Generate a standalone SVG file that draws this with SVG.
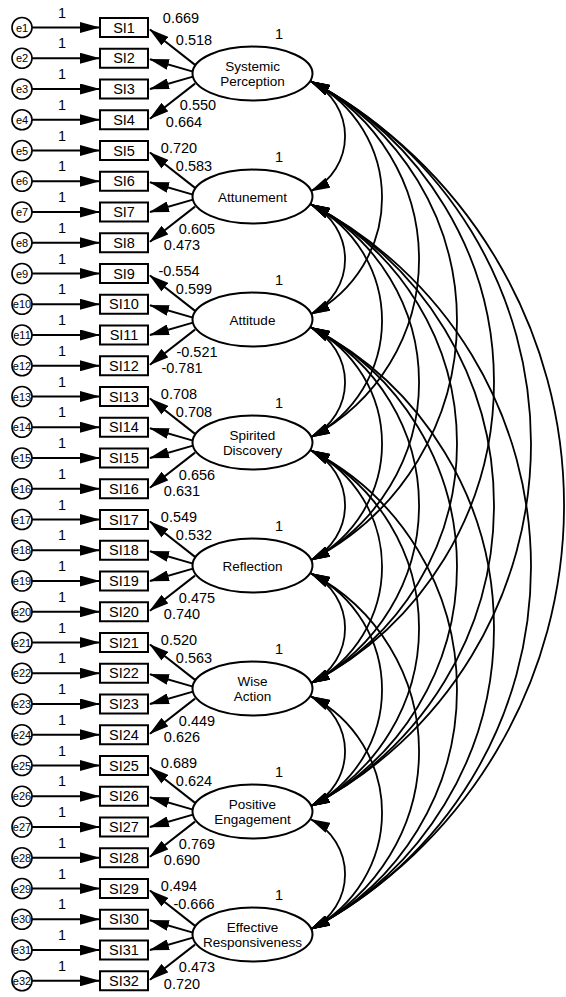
<svg xmlns="http://www.w3.org/2000/svg" xmlns:xlink="http://www.w3.org/1999/xlink" width="566" height="997" viewBox="0 0 566 997">
<style>
text{font-family:"Liberation Sans",Arial,sans-serif;fill:#000}
.ln{stroke:#000;stroke-width:2;fill:none;marker-end:url(#ah)}
.cov{stroke:#000;stroke-width:1.8;fill:none;marker-start:url(#ah);marker-end:url(#ah)}
.lbl{font-size:14.5px;text-anchor:middle}
.et{font-size:11px;text-anchor:middle}
.lt{font-size:13.5px;text-anchor:middle}
.bx rect{fill:#fff;stroke:#000;stroke-width:2}
.bx text{font-size:14.5px;text-anchor:middle}
.ev circle{fill:#fff;stroke:#000;stroke-width:1.6}
.lv ellipse{fill:#fff;stroke:#000;stroke-width:2}
</style>
<defs>
<marker id="ah" viewBox="0 0 20 11" refX="19" refY="5.5" markerWidth="20" markerHeight="11" markerUnits="userSpaceOnUse" orient="auto-start-reverse"><path d="M0,0L20,5.5L0,11z" fill="#000"/></marker>
<g id="grp">
<line class="ln" x1="32" y1="27.5" x2="99" y2="27.5"/>
<line class="ln" x1="32" y1="58.25" x2="99" y2="58.25"/>
<line class="ln" x1="32" y1="89" x2="99" y2="89"/>
<line class="ln" x1="32" y1="119.75" x2="99" y2="119.75"/>
<path class="ln" d="M196,65.6L150,29.5"/>
<path class="ln" d="M193,71.6L150,59.25"/>
<path class="ln" d="M193,76.6L150,89"/>
<path class="ln" d="M195,83.6L150,118.75"/>
</g>
</defs>
<g id="connectors">
<use xlink:href="#grp"/>
<use xlink:href="#grp" y="123"/>
<use xlink:href="#grp" y="246"/>
<use xlink:href="#grp" y="369"/>
<use xlink:href="#grp" y="492"/>
<use xlink:href="#grp" y="615"/>
<use xlink:href="#grp" y="738"/>
<use xlink:href="#grp" y="861"/>
<path class="cov" d="M311,81.4A481.5,481.5 0 0 1 311,929.1"/>
<path class="cov" d="M311,81.4A408.4,408.4 0 0 1 311,806.1"/>
<path class="cov" d="M311,204.4A408.4,408.4 0 0 1 311,929.1"/>
<path class="cov" d="M311,81.4A338.8,338.8 0 0 1 311,683.1"/>
<path class="cov" d="M311,204.4A338.8,338.8 0 0 1 311,806.1"/>
<path class="cov" d="M311,327.4A338.8,338.8 0 0 1 311,929.1"/>
<path class="cov" d="M311,81.4A269.2,269.2 0 0 1 311,560.1"/>
<path class="cov" d="M311,204.4A269.2,269.2 0 0 1 311,683.1"/>
<path class="cov" d="M311,327.4A269.2,269.2 0 0 1 311,806.1"/>
<path class="cov" d="M311,450.4A269.2,269.2 0 0 1 311,929.1"/>
<path class="cov" d="M311,81.4A200.4,200.4 0 0 1 311,437.1"/>
<path class="cov" d="M311,204.4A200.4,200.4 0 0 1 311,560.1"/>
<path class="cov" d="M311,327.4A200.4,200.4 0 0 1 311,683.1"/>
<path class="cov" d="M311,450.4A200.4,200.4 0 0 1 311,806.1"/>
<path class="cov" d="M311,573.4A200.4,200.4 0 0 1 311,929.1"/>
<path class="cov" d="M311,81.4A130.8,130.8 0 0 1 311,314.1"/>
<path class="cov" d="M311,204.4A130.8,130.8 0 0 1 311,437.1"/>
<path class="cov" d="M311,327.4A130.8,130.8 0 0 1 311,560.1"/>
<path class="cov" d="M311,450.4A130.8,130.8 0 0 1 311,683.1"/>
<path class="cov" d="M311,573.4A130.8,130.8 0 0 1 311,806.1"/>
<path class="cov" d="M311,696.4A130.8,130.8 0 0 1 311,929.1"/>
<path class="cov" d="M311,81.4A61.2,61.2 0 0 1 311,191.1"/>
<path class="cov" d="M311,204.4A61.2,61.2 0 0 1 311,314.1"/>
<path class="cov" d="M311,327.4A61.2,61.2 0 0 1 311,437.1"/>
<path class="cov" d="M311,450.4A61.2,61.2 0 0 1 311,560.1"/>
<path class="cov" d="M311,573.4A61.2,61.2 0 0 1 311,683.1"/>
<path class="cov" d="M311,696.4A61.2,61.2 0 0 1 311,806.1"/>
<path class="cov" d="M311,819.4A61.2,61.2 0 0 1 311,929.1"/>
</g>
<g id="errors" class="ev">
<g id="e1" transform="translate(22,27.5)"><circle r="10"/><text class="et" y="4">e1</text></g>
<g id="e2" transform="translate(22,58.25)"><circle r="10"/><text class="et" y="4">e2</text></g>
<g id="e3" transform="translate(22,89)"><circle r="10"/><text class="et" y="4">e3</text></g>
<g id="e4" transform="translate(22,119.75)"><circle r="10"/><text class="et" y="4">e4</text></g>
<g id="e5" transform="translate(22,150.5)"><circle r="10"/><text class="et" y="4">e5</text></g>
<g id="e6" transform="translate(22,181.25)"><circle r="10"/><text class="et" y="4">e6</text></g>
<g id="e7" transform="translate(22,212)"><circle r="10"/><text class="et" y="4">e7</text></g>
<g id="e8" transform="translate(22,242.75)"><circle r="10"/><text class="et" y="4">e8</text></g>
<g id="e9" transform="translate(22,273.5)"><circle r="10"/><text class="et" y="4">e9</text></g>
<g id="e10" transform="translate(22,304.25)"><circle r="10"/><text class="et" y="4">e10</text></g>
<g id="e11" transform="translate(22,335)"><circle r="10"/><text class="et" y="4">e11</text></g>
<g id="e12" transform="translate(22,365.75)"><circle r="10"/><text class="et" y="4">e12</text></g>
<g id="e13" transform="translate(22,396.5)"><circle r="10"/><text class="et" y="4">e13</text></g>
<g id="e14" transform="translate(22,427.25)"><circle r="10"/><text class="et" y="4">e14</text></g>
<g id="e15" transform="translate(22,458)"><circle r="10"/><text class="et" y="4">e15</text></g>
<g id="e16" transform="translate(22,488.75)"><circle r="10"/><text class="et" y="4">e16</text></g>
<g id="e17" transform="translate(22,519.5)"><circle r="10"/><text class="et" y="4">e17</text></g>
<g id="e18" transform="translate(22,550.25)"><circle r="10"/><text class="et" y="4">e18</text></g>
<g id="e19" transform="translate(22,581)"><circle r="10"/><text class="et" y="4">e19</text></g>
<g id="e20" transform="translate(22,611.75)"><circle r="10"/><text class="et" y="4">e20</text></g>
<g id="e21" transform="translate(22,642.5)"><circle r="10"/><text class="et" y="4">e21</text></g>
<g id="e22" transform="translate(22,673.25)"><circle r="10"/><text class="et" y="4">e22</text></g>
<g id="e23" transform="translate(22,704)"><circle r="10"/><text class="et" y="4">e23</text></g>
<g id="e24" transform="translate(22,734.75)"><circle r="10"/><text class="et" y="4">e24</text></g>
<g id="e25" transform="translate(22,765.5)"><circle r="10"/><text class="et" y="4">e25</text></g>
<g id="e26" transform="translate(22,796.25)"><circle r="10"/><text class="et" y="4">e26</text></g>
<g id="e27" transform="translate(22,827)"><circle r="10"/><text class="et" y="4">e27</text></g>
<g id="e28" transform="translate(22,857.75)"><circle r="10"/><text class="et" y="4">e28</text></g>
<g id="e29" transform="translate(22,888.5)"><circle r="10"/><text class="et" y="4">e29</text></g>
<g id="e30" transform="translate(22,919.25)"><circle r="10"/><text class="et" y="4">e30</text></g>
<g id="e31" transform="translate(22,950)"><circle r="10"/><text class="et" y="4">e31</text></g>
<g id="e32" transform="translate(22,980.75)"><circle r="10"/><text class="et" y="4">e32</text></g>
</g>
<g id="items" class="bx">
<g id="SI1" transform="translate(124,27.5)"><rect x="-24" y="-9.5" width="48" height="19"/><text y="5">SI1</text></g>
<g id="SI2" transform="translate(124,58.25)"><rect x="-24" y="-9.5" width="48" height="19"/><text y="5">SI2</text></g>
<g id="SI3" transform="translate(124,89)"><rect x="-24" y="-9.5" width="48" height="19"/><text y="5">SI3</text></g>
<g id="SI4" transform="translate(124,119.75)"><rect x="-24" y="-9.5" width="48" height="19"/><text y="5">SI4</text></g>
<g id="SI5" transform="translate(124,150.5)"><rect x="-24" y="-9.5" width="48" height="19"/><text y="5">SI5</text></g>
<g id="SI6" transform="translate(124,181.25)"><rect x="-24" y="-9.5" width="48" height="19"/><text y="5">SI6</text></g>
<g id="SI7" transform="translate(124,212)"><rect x="-24" y="-9.5" width="48" height="19"/><text y="5">SI7</text></g>
<g id="SI8" transform="translate(124,242.75)"><rect x="-24" y="-9.5" width="48" height="19"/><text y="5">SI8</text></g>
<g id="SI9" transform="translate(124,273.5)"><rect x="-24" y="-9.5" width="48" height="19"/><text y="5">SI9</text></g>
<g id="SI10" transform="translate(124,304.25)"><rect x="-24" y="-9.5" width="48" height="19"/><text y="5">SI10</text></g>
<g id="SI11" transform="translate(124,335)"><rect x="-24" y="-9.5" width="48" height="19"/><text y="5">SI11</text></g>
<g id="SI12" transform="translate(124,365.75)"><rect x="-24" y="-9.5" width="48" height="19"/><text y="5">SI12</text></g>
<g id="SI13" transform="translate(124,396.5)"><rect x="-24" y="-9.5" width="48" height="19"/><text y="5">SI13</text></g>
<g id="SI14" transform="translate(124,427.25)"><rect x="-24" y="-9.5" width="48" height="19"/><text y="5">SI14</text></g>
<g id="SI15" transform="translate(124,458)"><rect x="-24" y="-9.5" width="48" height="19"/><text y="5">SI15</text></g>
<g id="SI16" transform="translate(124,488.75)"><rect x="-24" y="-9.5" width="48" height="19"/><text y="5">SI16</text></g>
<g id="SI17" transform="translate(124,519.5)"><rect x="-24" y="-9.5" width="48" height="19"/><text y="5">SI17</text></g>
<g id="SI18" transform="translate(124,550.25)"><rect x="-24" y="-9.5" width="48" height="19"/><text y="5">SI18</text></g>
<g id="SI19" transform="translate(124,581)"><rect x="-24" y="-9.5" width="48" height="19"/><text y="5">SI19</text></g>
<g id="SI20" transform="translate(124,611.75)"><rect x="-24" y="-9.5" width="48" height="19"/><text y="5">SI20</text></g>
<g id="SI21" transform="translate(124,642.5)"><rect x="-24" y="-9.5" width="48" height="19"/><text y="5">SI21</text></g>
<g id="SI22" transform="translate(124,673.25)"><rect x="-24" y="-9.5" width="48" height="19"/><text y="5">SI22</text></g>
<g id="SI23" transform="translate(124,704)"><rect x="-24" y="-9.5" width="48" height="19"/><text y="5">SI23</text></g>
<g id="SI24" transform="translate(124,734.75)"><rect x="-24" y="-9.5" width="48" height="19"/><text y="5">SI24</text></g>
<g id="SI25" transform="translate(124,765.5)"><rect x="-24" y="-9.5" width="48" height="19"/><text y="5">SI25</text></g>
<g id="SI26" transform="translate(124,796.25)"><rect x="-24" y="-9.5" width="48" height="19"/><text y="5">SI26</text></g>
<g id="SI27" transform="translate(124,827)"><rect x="-24" y="-9.5" width="48" height="19"/><text y="5">SI27</text></g>
<g id="SI28" transform="translate(124,857.75)"><rect x="-24" y="-9.5" width="48" height="19"/><text y="5">SI28</text></g>
<g id="SI29" transform="translate(124,888.5)"><rect x="-24" y="-9.5" width="48" height="19"/><text y="5">SI29</text></g>
<g id="SI30" transform="translate(124,919.25)"><rect x="-24" y="-9.5" width="48" height="19"/><text y="5">SI30</text></g>
<g id="SI31" transform="translate(124,950)"><rect x="-24" y="-9.5" width="48" height="19"/><text y="5">SI31</text></g>
<g id="SI32" transform="translate(124,980.75)"><rect x="-24" y="-9.5" width="48" height="19"/><text y="5">SI32</text></g>
</g>
<g id="latents" class="lv">
<g id="SystemicPerception" transform="translate(252.5,73.6)"><ellipse rx="60" ry="27"/><text class="lt" y="-2.5">Systemic</text><text class="lt" y="12.5">Perception</text></g>
<g id="Attunement" transform="translate(252.5,196.6)"><ellipse rx="60" ry="27"/><text class="lt" y="5">Attunement</text></g>
<g id="Attitude" transform="translate(252.5,319.6)"><ellipse rx="60" ry="27"/><text class="lt" y="5">Attitude</text></g>
<g id="SpiritedDiscovery" transform="translate(252.5,442.6)"><ellipse rx="60" ry="27"/><text class="lt" y="-2.5">Spirited</text><text class="lt" y="12.5">Discovery</text></g>
<g id="Reflection" transform="translate(252.5,565.6)"><ellipse rx="60" ry="27"/><text class="lt" y="5">Reflection</text></g>
<g id="WiseAction" transform="translate(252.5,688.6)"><ellipse rx="60" ry="27"/><text class="lt" y="-2.5">Wise</text><text class="lt" y="12.5">Action</text></g>
<g id="PositiveEngagement" transform="translate(252.5,811.6)"><ellipse rx="60" ry="27"/><text class="lt" y="-2.5">Positive</text><text class="lt" y="12.5">Engagement</text></g>
<g id="EffectiveResponsiveness" transform="translate(252.5,934.6)"><ellipse rx="60" ry="27"/><text class="lt" y="-2.5">Effective</text><text class="lt" y="12.5">Responsiveness</text></g>
</g>
<g id="labels" class="lbl">
<text x="62" y="17.5">1</text><text x="62" y="48.25">1</text><text x="62" y="79">1</text><text x="62" y="109.75">1</text>
<text x="62" y="140.5">1</text><text x="62" y="171.25">1</text><text x="62" y="202">1</text><text x="62" y="232.75">1</text>
<text x="62" y="263.5">1</text><text x="62" y="294.25">1</text><text x="62" y="325">1</text><text x="62" y="355.75">1</text>
<text x="62" y="386.5">1</text><text x="62" y="417.25">1</text><text x="62" y="448">1</text><text x="62" y="478.75">1</text>
<text x="62" y="509.5">1</text><text x="62" y="540.25">1</text><text x="62" y="571">1</text><text x="62" y="601.75">1</text>
<text x="62" y="632.5">1</text><text x="62" y="663.25">1</text><text x="62" y="694">1</text><text x="62" y="724.75">1</text>
<text x="62" y="755.5">1</text><text x="62" y="786.25">1</text><text x="62" y="817">1</text><text x="62" y="847.75">1</text>
<text x="62" y="878.5">1</text><text x="62" y="909.25">1</text><text x="62" y="940">1</text><text x="62" y="970.75">1</text>
<text x="279" y="39">1</text><text x="279" y="162">1</text><text x="279" y="285">1</text><text x="279" y="408">1</text>
<text x="279" y="531">1</text><text x="279" y="654">1</text><text x="279" y="777">1</text><text x="279" y="900">1</text>
<text x="181" y="23">0.669</text><text x="194" y="44.5">0.518</text><text x="198" y="110">0.550</text><text x="184" y="127">0.664</text>
<text x="179" y="152.6">0.720</text><text x="194" y="171.1">0.583</text><text x="197" y="233.6">0.605</text><text x="182" y="250.1">0.473</text>
<text x="179" y="275.6">-0.554</text><text x="194" y="294.1">0.599</text><text x="197" y="356.6">-0.521</text><text x="182" y="373.1">-0.781</text>
<text x="179" y="398.6">0.708</text><text x="194" y="417.1">0.708</text><text x="197" y="479.6">0.656</text><text x="182" y="496.1">0.631</text>
<text x="179" y="521.6">0.549</text><text x="194" y="540.1">0.532</text><text x="197" y="602.6">0.475</text><text x="182" y="619.1">0.740</text>
<text x="179" y="644.6">0.520</text><text x="194" y="663.1">0.563</text><text x="197" y="725.6">0.449</text><text x="182" y="742.1">0.626</text>
<text x="179" y="767.6">0.689</text><text x="194" y="786.1">0.624</text><text x="197" y="848.6">0.769</text><text x="182" y="865.1">0.690</text>
<text x="179" y="890.6">0.494</text><text x="194" y="909.1">-0.666</text><text x="197" y="971.6">0.473</text><text x="182" y="989">0.720</text>
</g>
</svg>
